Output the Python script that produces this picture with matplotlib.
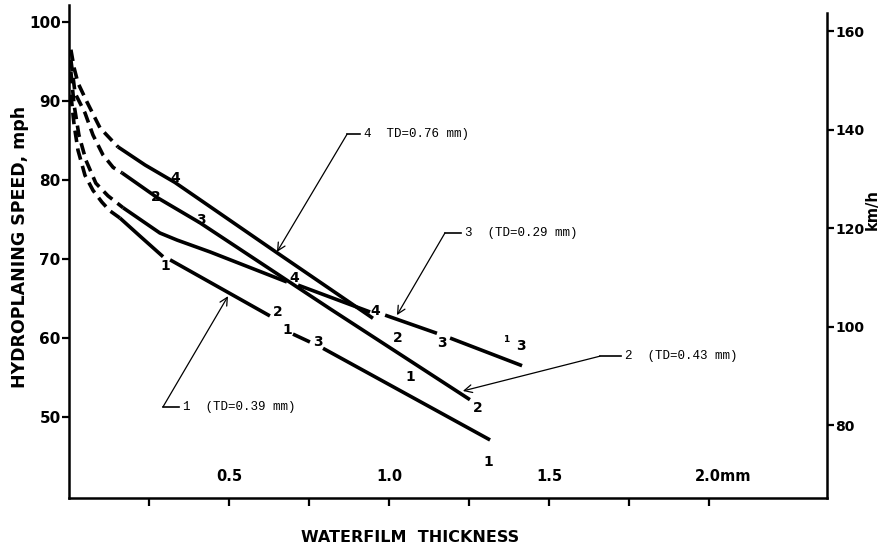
import numpy as np
import matplotlib.pyplot as plt

# waterfilm thickness (mm) against hydroplaning speed (mph), four test surfaces
# dashed part = extrapolation towards zero film depth
c4_dash_x = [0.006, 0.016, 0.028, 0.056, 0.097, 0.153]
c4_dash_v = [96.5, 94.2, 92.3, 89.9, 86.6, 84.2]
c4_x = [0.153, 0.238, 0.331, 0.650, 0.950]
c4_v = [84.2, 81.9, 79.7, 70.8, 62.5]

c2_dash_x = [0.006, 0.019, 0.050, 0.075, 0.106, 0.138, 0.166]
c2_dash_v = [95.2, 91.0, 88.5, 85.7, 83.2, 81.6, 80.9]
c2_x = [0.166, 0.275, 0.409, 0.816, 1.253]
c2_v = [80.9, 77.8, 74.6, 63.7, 52.2]

c3_dash_x = [0.006, 0.016, 0.031, 0.053, 0.084, 0.122, 0.169]
c3_dash_v = [93.7, 89.5, 85.7, 82.5, 79.6, 78.0, 76.5]
c3_segs_x = [[0.169, 0.284, 0.338, 0.441, 0.681], [0.716, 0.941], [0.988, 1.150], [1.191, 1.416]]
c3_segs_v = [[76.5, 73.3, 72.4, 70.9, 67.1], [66.7, 63.3], [62.9, 60.6], [60.0, 56.5]]

c1_dash_x = [0.006, 0.016, 0.028, 0.050, 0.075, 0.103, 0.128, 0.159]
c1_dash_v = [90.8, 87.0, 83.8, 80.6, 78.7, 77.2, 76.1, 75.2]
c1_segs_x = [[0.159, 0.222, 0.294], [0.316, 0.628], [0.700, 0.753], [0.794, 1.316]]
c1_segs_v = [[75.2, 72.9, 70.3], [69.9, 62.8], [60.5, 59.5], [58.7, 47.1]]

# small numbers written along the curves
pt_labels = ["4", "2", "3", "1", "4", "2", "1", "3", "4", "2", "3", "3", "1", "2", "1"]
pt_x = [0.331, 0.272, 0.413, 0.300, 0.703, 0.653, 0.681, 0.778, 0.956, 1.028, 1.166, 1.413, 1.066, 1.278, 1.309]
pt_v = [80.3, 77.9, 74.9, 69.1, 67.6, 63.3, 61.0, 59.5, 63.4, 60.0, 59.4, 59.0, 55.1, 51.1, 44.3]
tiny_label = "1"
tiny_x, tiny_v = 1.366, 59.8

# curve call-outs
ann_texts = ["4  TD=0.76 mm)", "3  (TD=0.29 mm)", "2  (TD=0.43 mm)", "1  (TD=0.39 mm)"]
ann_tip_x = [0.650, 1.025, 1.231, 0.497]
ann_tip_v = [70.9, 62.9, 53.3, 65.3]
ann_corner_x = [0.869, 1.175, 1.659, 0.294]
ann_corner_v = [85.8, 73.3, 57.7, 51.3]
ann_text_x = [0.922, 1.238, 1.738, 0.356]

xticks_minor = [0.25, 0.5, 0.75, 1.0, 1.25, 1.5, 1.75, 2.0]
xlabels = ["0.5", "1.0", "1.5"]
xlabel_pos = [0.5, 1.0, 1.5]
mph_ticks = [50, 60, 70, 80, 90, 100]
kmh_ticks = [80, 100, 120, 140, 160]

fig = plt.figure(figsize=(8.81, 5.52), dpi=100)
ax = fig.add_axes([0.0783, 0.0978, 0.8604, 0.893])
ax2 = ax.twinx()

lw = 2.6
dash = (3.2, 1.8)
for dx, dv in [(c4_dash_x, c4_dash_v), (c2_dash_x, c2_dash_v),
               (c3_dash_x, c3_dash_v), (c1_dash_x, c1_dash_v)]:
    ax.plot(dx, dv, color='black', lw=lw, dashes=dash)
ax.plot(c4_x, c4_v, color='black', lw=lw, solid_capstyle='butt')
ax.plot(c2_x, c2_v, color='black', lw=lw, solid_capstyle='butt')
for sx, sv in zip(c3_segs_x, c3_segs_v):
    ax.plot(sx, sv, color='black', lw=lw, solid_capstyle='butt')
for sx, sv in zip(c1_segs_x, c1_segs_v):
    ax.plot(sx, sv, color='black', lw=lw, solid_capstyle='butt')

for s, x, v in zip(pt_labels, pt_x, pt_v):
    ax.text(x, v, s, fontsize=10, fontweight='bold', ha='center', va='center')
ax.text(tiny_x, tiny_v, tiny_label, fontsize=6.5, fontweight='bold', ha='center', va='center')

for t, tx, tv, cx, cv, lx in zip(ann_texts, ann_tip_x, ann_tip_v,
                                 ann_corner_x, ann_corner_v, ann_text_x):
    ax.annotate("", xy=(tx, tv), xytext=(cx, cv),
                arrowprops=dict(arrowstyle='->', lw=0.9, color='black',
                                shrinkA=0, shrinkB=0, mutation_scale=14))
    ax.plot([cx, lx - 0.012], [cv, cv], color='black', lw=1.2)
    ax.text(lx, cv, t, family='Liberation Mono', fontsize=9, ha='left', va='center')

ax.set_xlim(0, 2.369)
ax.set_ylim(39.75, 102.15)
ax2.set_ylim(65.2, 165.3)

for sp in ['top', 'right']:
    ax.spines[sp].set_visible(False)
for sp in ['top', 'left', 'bottom']:
    ax2.spines[sp].set_visible(False)
for sp in ['left', 'bottom']:
    ax.spines[sp].set_linewidth(1.8)
ax2.spines['right'].set_linewidth(1.8)
ax2.spines['right'].set_bounds(65.2, 163.7)

ax.set_xticks(xticks_minor)
ax.set_xticklabels([])
ax.tick_params(axis='x', direction='out', length=6, width=1.6)
for s, x in zip(xlabels, xlabel_pos):
    ax.annotate(s, xy=(x, 0), xycoords=('data', 'axes fraction'), xytext=(0, 10),
                textcoords='offset points', ha='center', va='bottom',
                fontsize=10.5, fontweight='bold')
ax.annotate("2.0mm", xy=(2.0, 0), xycoords=('data', 'axes fraction'), xytext=(-10, 10),
            textcoords='offset points', ha='left', va='bottom',
            fontsize=10.5, fontweight='bold')

ax.set_yticks(mph_ticks)
ax.set_yticklabels([str(t) for t in mph_ticks], fontsize=11, fontweight='bold')
ax.tick_params(axis='y', direction='out', length=5, width=1.6, pad=1)
ax2.set_yticks(kmh_ticks)
ax2.set_yticklabels([str(t) for t in kmh_ticks], fontsize=10, fontweight='bold')
ax2.tick_params(axis='y', direction='out', length=5, width=1.6, pad=1)

fig.text(0.023, 0.553, "HYDROPLANING SPEED, mph", rotation=90, ha='center', va='center',
         fontsize=12.5, fontweight='bold')
fig.text(0.99, 0.62, "km/h", rotation=90, ha='center', va='center',
         fontsize=10.5, fontweight='bold')
fig.text(0.465, 0.027, "WATERFILM  THICKNESS", ha='center', va='center',
         fontsize=11.5, fontweight='bold')

fig.savefig('out.png', dpi=100)
